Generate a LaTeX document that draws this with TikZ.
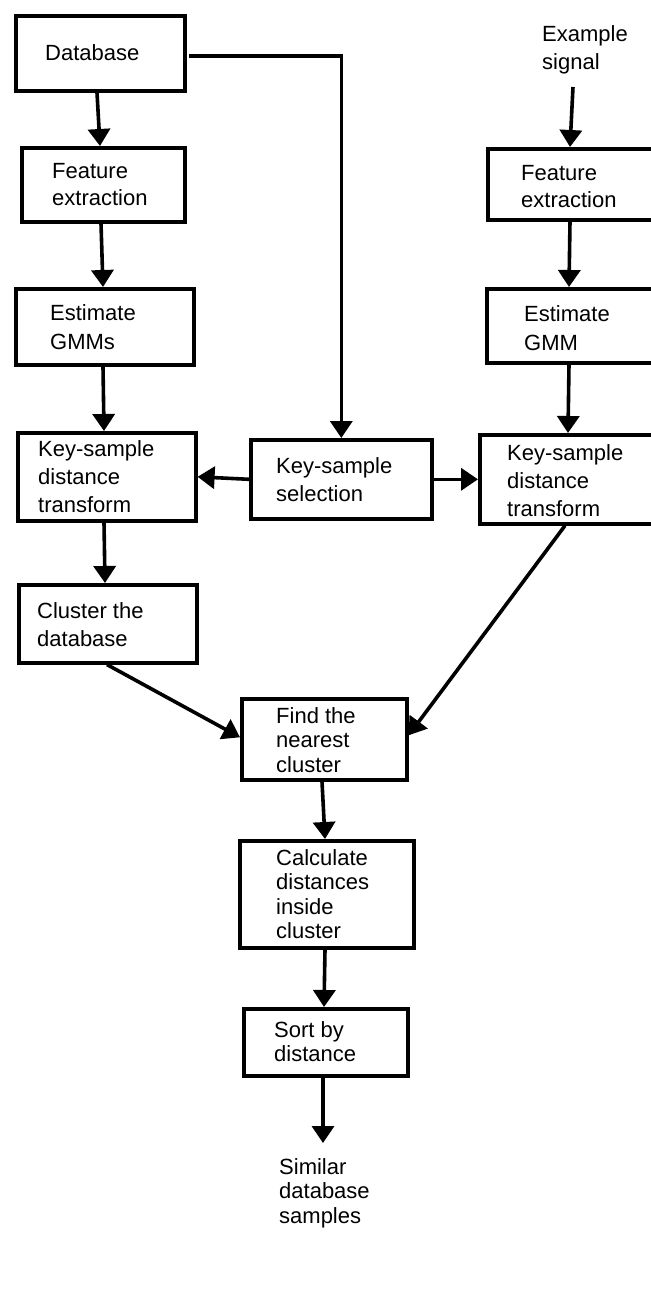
\documentclass[tikz,border=0pt]{standalone}
\usepackage{fontspec}
\setmainfont{Liberation Sans}
\usetikzlibrary{arrows.meta}
\tikzset{
  bx/.style={draw=black, line width=3.6pt, inner sep=0pt, anchor=north west, fill=none},
  txt/.style={inner sep=0pt, anchor=north west, align=left},
  arr/.style={line width=3.6pt, -{Triangle[length=17pt,width=22pt]}},
}
\newcommand{\fs}[1]{\fontsize{22}{#1}\selectfont}
\begin{document}
\begin{tikzpicture}[x=1pt,y=-1pt]
\useasboundingbox[fill=white] (0,0) rectangle (651,1294);
% boxes
\node[bx, minimum width=169pt, minimum height=75pt] (db) at (14,14) {};
\node[bx, minimum width=163pt, minimum height=74pt] (fe1) at (20,146) {};
\node[bx, minimum width=178pt, minimum height=76pt] (eg1) at (14,287) {};
\node[bx, minimum width=178pt, minimum height=88pt] (ks1) at (16,431) {};
\node[bx, minimum width=178pt, minimum height=78pt] (cl) at (17,583) {};
\node[bx, minimum width=181pt, minimum height=79pt] (sel) at (249,438) {};
\node[bx, minimum width=170pt, minimum height=71pt] (fe2) at (486,147) {};
\node[bx, minimum width=170pt, minimum height=74pt] (eg2) at (485,287) {};
\node[bx, minimum width=180pt, minimum height=89pt] (ks2) at (478,433) {};
\node[bx, minimum width=165pt, minimum height=81pt] (find) at (240,697) {};
\node[bx, minimum width=174pt, minimum height=107pt] (calc) at (238,839) {};
\node[bx, minimum width=164pt, minimum height=67pt] (sort) at (242,1007) {};
% texts
\node[txt, font=\fs{28}] (tdb) at (45,44) {Database};
\node[txt, font=\fs{28}] (tex) at (542,25) {Example\\signal};
\node[txt, font=\fs{27}] (tfe1) at (52,163) {Feature\\extraction};
\node[txt, font=\fs{27}] (tfe2) at (521,165) {Feature\\extraction};
\node[txt, font=\fs{29}] (teg1) at (50,304) {Estimate\\GMMs};
\node[txt, font=\fs{29}] (teg2) at (524,305) {Estimate\\GMM};
\node[txt, font=\fs{28}] (tks1) at (38,440) {Key-sample\\distance\\transform};
\node[txt, font=\fs{28}] (tsel) at (276,457) {Key-sample\\selection};
\node[txt, font=\fs{28}] (tks2) at (507,444) {Key-sample\\distance\\transform};
\node[txt, font=\fs{28}] (tcl) at (37,602) {Cluster the\\database};
\node[txt, font=\fs{24.5}] (tfind) at (276,707) {Find the\\nearest\\cluster};
\node[txt, font=\fs{24.5}] (tcalc) at (276,849) {Calculate\\distances\\inside\\cluster};
\node[txt, font=\fs{24}] (tsort) at (274,1021) {Sort by\\distance};
\node[txt, font=\fs{24.5}] (tsim) at (279,1158) {Similar\\database\\samples};
% free ends
\coordinate (exout) at (573,87);
\coordinate (simin) at (323,1143);
\coordinate (dbout) at (189,56);
% connectors
\draw[arr] ([xshift=83pt]db.south west) -- ([xshift=80pt]fe1.north west);
\draw[arr] ([xshift=81pt]fe1.south west) -- ([xshift=89pt]eg1.north west);
\draw[arr] ([xshift=89pt]eg1.south west) -- ([xshift=88pt]ks1.north west);
\draw[arr] ([xshift=88pt]ks1.south west) -- ([xshift=88pt]cl.north west);
\draw[arr] (dbout) -| (sel.north);
\draw[arr] (sel.west) -- (ks1.east);
\draw[arr] (sel.east) -- (ks2.west);
\draw[arr] (exout) -- ([xshift=84pt]fe2.north west);
\draw[arr] ([xshift=84pt]fe2.south west) -- ([xshift=84pt]eg2.north west);
\draw[arr] ([xshift=84pt]eg2.south west) -- ([xshift=90pt]ks2.north west);
\draw[arr] ([xshift=90pt]cl.south west) -- ([yshift=2pt]find.west);
\draw[arr] ([xshift=87pt]ks2.south west) -- ([yshift=4pt]find.east);
\draw[arr] ([xshift=82pt]find.south west) -- ([xshift=87pt]calc.north west);
\draw[arr] ([xshift=87pt]calc.south west) -- ([xshift=82pt]sort.north west);
\draw[arr] ([xshift=81pt]sort.south west) -- (simin);
\end{tikzpicture}
\end{document}
